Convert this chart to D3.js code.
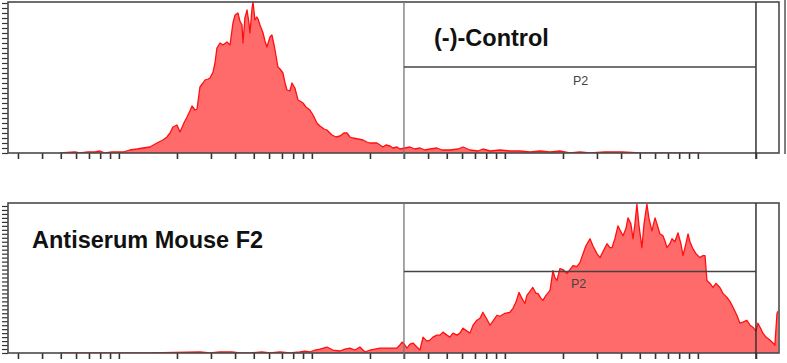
<!DOCTYPE html>
<html lang="en">
<head>
<meta charset="utf-8">
<title>Flow cytometry histograms</title>
<script src="https://cdn.jsdelivr.net/npm/d3@7"></script>
<style>
  body { margin: 0; background: #fff; font-family: "Liberation Sans", Arial, sans-serif; }
  svg { display: block; background: #fff; }
</style>
</head>
<body>
<div id="chart"></div>
<script>
// log10 fluorescence of each histogram point, and the events counted there
var ctrlLog = [1.394, 1.471, 1.497, 1.539, 1.575, 1.601, 1.627, 1.663, 1.694, 1.720, 1.756, 1.793, 1.824, 1.860, 1.896, 1.927, 1.948, 1.964, 1.979, 2.000,
  2.016, 2.036, 2.052, 2.067, 2.078, 2.093, 2.104, 2.119, 2.135, 2.145, 2.161, 2.171, 2.187, 2.197, 2.207, 2.223, 2.238, 2.259, 2.275, 2.290,
  2.301, 2.316, 2.326, 2.337, 2.342, 2.352, 2.363, 2.373, 2.378, 2.389, 2.394, 2.404, 2.414, 2.420, 2.430, 2.446, 2.456, 2.466, 2.482, 2.492,
  2.503, 2.508, 2.523, 2.534, 2.549, 2.560, 2.570, 2.585, 2.596, 2.611, 2.627, 2.637, 2.653, 2.668, 2.689, 2.705, 2.725, 2.741, 2.762, 2.777,
  2.803, 2.824, 2.845, 2.865, 2.881, 2.896, 2.912, 2.938, 2.964, 2.984, 3.000, 3.021, 3.036, 3.052, 3.067, 3.083, 3.104, 3.119, 3.140, 3.155,
  3.181, 3.207, 3.233, 3.259, 3.285, 3.311, 3.347, 3.373, 3.414, 3.456, 3.482, 3.518, 3.560, 3.585, 3.622, 3.674, 3.725, 3.777, 3.829, 3.881,
  3.933, 3.984, 4.036, 4.088, 4.140, 4.217, 4.306, 4.399, 4.502, 4.710];
var ctrlCount = [0, 1, 0, 1, 1, 2, 0, 1, 1, 1, 3, 4, 5, 6, 10, 13, 16, 20, 26, 28,
  21, 30, 36, 42, 47, 43, 44, 66, 70, 73, 74, 75, 81, 90, 105, 110, 108, 111, 108, 130,
  138, 140, 132, 128, 110, 135, 143, 130, 120, 145, 151, 133, 136, 134, 128, 120, 112, 106, 116, 118,
  108, 103, 86, 84, 80, 70, 63, 62, 70, 65, 53, 52, 50, 46, 43, 38, 30, 27, 24, 23,
  18, 16, 17, 20, 20, 16, 15, 14, 13, 11, 10, 10, 10, 8, 6, 8, 7, 5, 6, 4,
  5, 6, 4, 5, 3, 4, 5, 3, 3, 4, 6, 3, 2, 4, 2, 3, 2, 2, 1, 2,
  1, 2, 0, 1, 0, 1, 1, 0, 0, 0];

var serumLog = [1.394, 1.860, 2.119, 2.171, 2.223, 2.285, 2.326, 2.378, 2.440, 2.482, 2.534, 2.585, 2.637, 2.663, 2.689, 2.715, 2.741, 2.777, 2.808, 2.845,
  2.870, 2.896, 2.922, 2.948, 2.974, 3.000, 3.026, 3.052, 3.104, 3.140, 3.155, 3.166, 3.181, 3.192, 3.207, 3.223, 3.243, 3.259, 3.275, 3.295,
  3.311, 3.326, 3.347, 3.363, 3.378, 3.399, 3.414, 3.430, 3.451, 3.466, 3.482, 3.503, 3.518, 3.534, 3.554, 3.570, 3.585, 3.606, 3.622, 3.637,
  3.658, 3.674, 3.699, 3.725, 3.741, 3.756, 3.772, 3.782, 3.793, 3.803, 3.813, 3.829, 3.844, 3.860, 3.870, 3.886, 3.896, 3.912, 3.933, 3.948,
  3.958, 3.969, 3.984, 4.000, 4.021, 4.036, 4.052, 4.072, 4.088, 4.104, 4.119, 4.140, 4.155, 4.176, 4.192, 4.212, 4.228, 4.243, 4.254, 4.269,
  4.285, 4.295, 4.311, 4.326, 4.337, 4.352, 4.363, 4.373, 4.383, 4.394, 4.409, 4.420, 4.435, 4.445, 4.461, 4.477, 4.487, 4.502, 4.518, 4.528,
  4.539, 4.554, 4.565, 4.580, 4.596, 4.611, 4.622, 4.637, 4.648, 4.658, 4.673, 4.689, 4.710, 4.725, 4.736, 4.746, 4.762, 4.777, 4.793, 4.813,
  4.829, 4.850, 4.865, 4.881, 4.901, 4.917, 4.932, 4.953, 4.969, 4.984, 5.000, 5.010, 5.026, 5.036, 5.052, 5.072, 5.088, 5.098, 5.109, 5.114];
var serumCount = [0, 0, 1, 0, 1, 1, 0, 0, 1, 0, 1, 0, 1, 2, 1, 3, 4, 6, 3, 2,
  4, 5, 3, 6, 1, 3, 4, 5, 5, 5, 8, 11, 8, 5, 9, 10, 6, 3, 16, 12,
  13, 16, 18, 18, 21, 18, 16, 20, 18, 20, 25, 22, 20, 28, 33, 35, 41, 34, 28, 32,
  38, 37, 40, 41, 45, 51, 61, 57, 53, 50, 58, 62, 66, 60, 60, 55, 53, 58, 63, 83,
  76, 73, 85, 84, 80, 84, 88, 87, 91, 100, 108, 115, 108, 100, 96, 104, 110, 106, 106, 115,
  128, 124, 118, 125, 136, 130, 115, 130, 150, 128, 106, 130, 150, 136, 123, 136, 130, 120, 118, 113,
  106, 110, 115, 112, 121, 110, 98, 110, 120, 112, 105, 100, 96, 98, 98, 73, 70, 66, 70, 66,
  60, 56, 52, 46, 38, 30, 31, 33, 28, 26, 22, 30, 24, 20, 16, 13, 10, 8, 40, 42];

// axis ticks: decades and the steps drawn inside each decade
var decades = [10, 100, 1000, 10000, 100000];
var minorSteps = [1.5, 2, 2.5, 3, 3.5, 4, 4.5, 5];

// P2 gate limits
var gateLow = 1500, gateHigh = 100000;

var panels = [
  { title: '(-)-Control', logs: ctrlLog, counts: ctrlCount, gateLevel: 86, yStep: 5,
    top: 2, bottom: 153, titleX: 434, titleY: 46, p2Dx: 169, p2Dy: 18, extraLine: true },
  { title: 'Antiserum Mouse F2', logs: serumLog, counts: serumCount, gateLevel: 82, yStep: 4,
    top: 203, bottom: 353, titleX: 32, titleY: 248, p2Dx: 167, p2Dy: 16, extraLine: false }
];

var width = 787, height = 363;
var left = 8, right = 779;

var svg = d3.select('#chart').append('svg')
  .attr('width', width)
  .attr('height', height);

var x = d3.scaleLog()
  .domain([13.32, 133200])
  .range([left, right + 1]);

var xTicks = [];
decades.forEach(function(d) {
  if (d > 10) xTicks.push(d);
  if (d < 100000) minorSteps.forEach(function(m) { xTicks.push(m * d); });
});

panels.forEach(function(p, i) {
  var y = d3.scaleLinear()
    .domain([0, 150])
    .range([p.bottom, p.top + 1]);

  var g = svg.append('g');

  g.append('clipPath').attr('id', 'clip' + i)
    .append('rect')
    .attr('x', left).attr('y', p.top)
    .attr('width', right - left).attr('height', p.bottom - p.top);

  var pts = p.logs.map(function(l, j) { return { v: Math.pow(10, l), c: p.counts[j] }; });

  var area = d3.area()
    .x(function(d) { return x(d.v); })
    .y0(y(0))
    .y1(function(d) { return y(d.c); });

  var line = d3.line()
    .x(function(d) { return x(d.v); })
    .y(function(d) { return y(d.c); });

  var plot = g.append('g').attr('clip-path', 'url(#clip' + i + ')');
  plot.append('path').datum(pts)
    .attr('d', area)
    .attr('fill', '#ff6b6b');
  plot.append('path').datum(pts)
    .attr('d', line)
    .attr('fill', 'none')
    .attr('stroke', '#ff1010')
    .attr('stroke-width', 1.3)
    .attr('stroke-linejoin', 'round');

  // x axis (no labels, only log ticks)
  var xAxis = g.append('g')
    .attr('transform', 'translate(0,' + p.bottom + ')')
    .call(d3.axisBottom(x).tickValues(xTicks).tickSize(6).tickFormat(''));
  xAxis.select('.domain').remove();
  xAxis.selectAll('line').attr('stroke', '#333').attr('stroke-width', 1.6);

  // y axis
  var yAxis = g.append('g')
    .attr('transform', 'translate(' + left + ',0)')
    .call(d3.axisLeft(y).tickValues(d3.range(0, 151, p.yStep)).tickSize(6).tickFormat(''));
  yAxis.select('.domain').remove();
  yAxis.selectAll('line').attr('stroke', '#333').attr('stroke-width', 1.2);

  // frame
  g.append('rect')
    .attr('x', left).attr('y', p.top)
    .attr('width', right - left).attr('height', p.bottom - p.top)
    .attr('fill', 'none')
    .attr('stroke', '#4a4a4a')
    .attr('stroke-width', 1.6);

  if (p.extraLine) {
    g.append('line')
      .attr('x1', right + 6).attr('x2', right + 6)
      .attr('y1', 0).attr('y2', p.bottom + 1)
      .attr('stroke', '#555').attr('stroke-width', 1.5);
  }

  // P2 gate
  var gy = y(p.gateLevel);
  g.append('line')
    .attr('x1', x(gateLow)).attr('x2', x(gateLow))
    .attr('y1', p.top).attr('y2', p.bottom + 6)
    .attr('stroke', '#777').attr('stroke-width', 1.3);
  g.append('line')
    .attr('x1', x(gateHigh)).attr('x2', x(gateHigh))
    .attr('y1', p.top).attr('y2', p.bottom + 6)
    .attr('stroke', '#333').attr('stroke-width', 1.5);
  g.append('line')
    .attr('x1', x(gateLow)).attr('x2', x(gateHigh))
    .attr('y1', gy).attr('y2', gy)
    .attr('stroke', '#444').attr('stroke-width', 1.5);
  g.append('text')
    .attr('x', x(gateLow) + p.p2Dx)
    .attr('y', gy + p.p2Dy)
    .attr('font-size', 12.5)
    .attr('fill', '#444')
    .text('P2');

  g.append('text')
    .attr('x', p.titleX)
    .attr('y', p.titleY)
    .attr('font-size', 23.5)
    .attr('font-weight', 'bold')
    .attr('fill', '#111')
    .text(p.title);
});
</script>
</body>
</html>
